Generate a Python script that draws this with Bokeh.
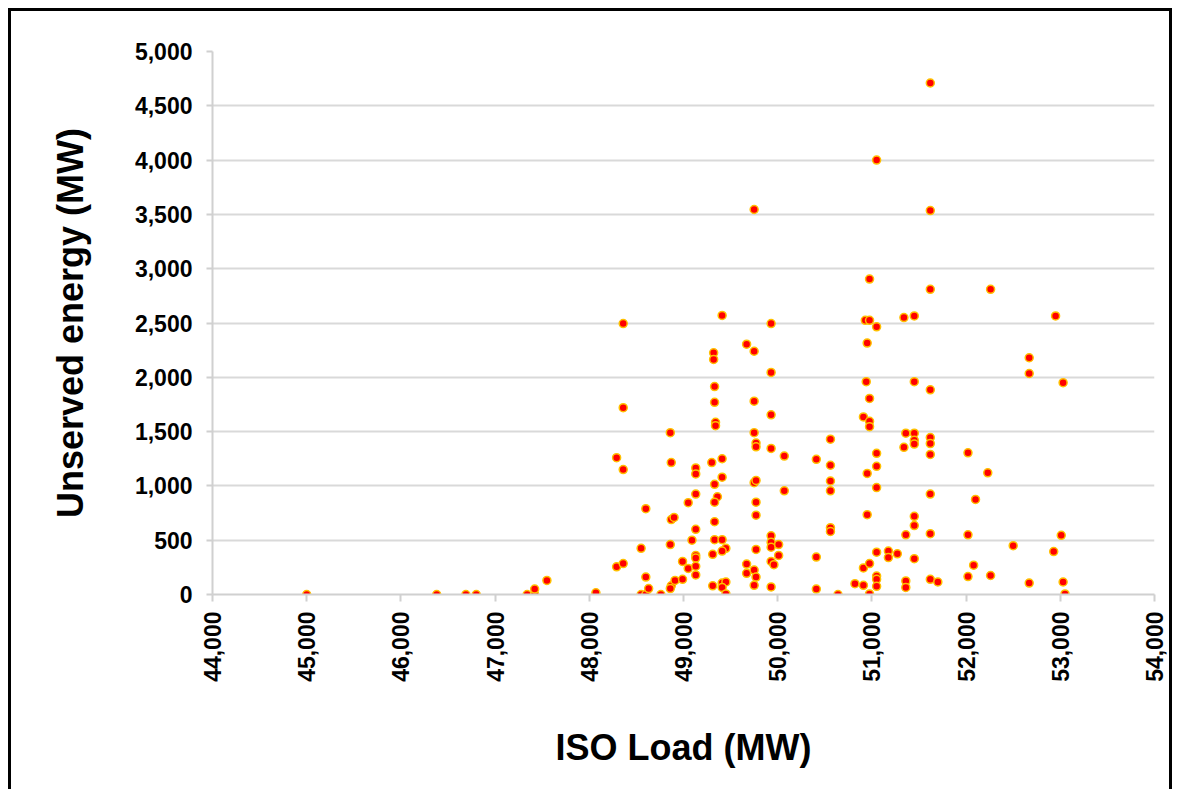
import math
from bokeh.plotting import figure
from bokeh.models import Range1d, FixedTicker, NumeralTickFormatter, ColumnDataSource
from bokeh.embed import file_html
from bokeh.resources import INLINE

# ISO Load (MW)
iso_load = [
    45000, 46380, 46690, 46800, 47340, 47420, 47420, 47550, 48070, 48290,
    48360, 48360, 48360, 48290, 48360, 48550, 48550, 48600, 48600, 48600,
    48630, 48760, 48860, 48870, 48870, 48900, 48860, 48870, 48860, 48910,
    48990, 48990, 49050, 49050, 49090, 49130, 49130, 49130, 49130, 49130,
    49130, 49130, 49130, 49300, 49320, 49320, 49330, 49330, 49340, 49340,
    49330, 49360, 49330, 49330, 49330, 49310, 49310, 49410, 49410, 49410,
    49410, 49450, 49410, 49410, 49450, 49410, 49450, 49670, 49670, 49670,
    49750, 49750, 49750, 49750, 49770, 49770, 49750, 49770, 49770, 49770,
    49770, 49750, 49770, 49750, 49930, 49930, 49930, 49930, 49930, 49930,
    49930, 49930, 49960, 49930, 50010, 50010, 50070, 50070, 50410, 50410,
    50410, 50560, 50560, 50560, 50560, 50560, 50560, 50640, 50820, 50910,
    50910, 50910, 50930, 50940, 50950, 50950, 50950, 50975, 50975, 50975,
    50975, 50975, 50975, 50975, 51050, 51050, 51050, 51050, 51050, 51050,
    51050, 51050, 51050, 51175, 51175, 51270, 51340, 51340, 51360, 51360,
    51360, 51360, 51450, 51450, 51450, 51450, 51450, 51450, 51450, 51450,
    51620, 51620, 51620, 51620, 51620, 51620, 51620, 51620, 51620, 51620,
    51700, 52020, 52020, 52020, 52080, 52100, 52230, 52260, 52260, 52500,
    52670, 52670, 52670, 52930, 52950, 53010, 53030, 53030, 53050,
]

# Unserved energy (MW)
unserved = [
    0, 0, 0, 0, 0, 0, 50, 130, 15, 1260,
    1150, 2495, 1720, 255, 285, 425, 0, 0, 790, 160,
    55, 0, 1490, 1215, 690, 710, 460, 80, 55, 130,
    140, 305, 240, 845, 500, 1165, 1110, 925, 600, 360,
    335, 260, 180, 1215, 2225, 2165, 1915, 1770, 1585, 1555,
    1015, 900, 850, 670, 505, 370, 80, 2570, 1250, 1080,
    505, 425, 400, 105, 115, 65, 5, 2305, 280, 195,
    3545, 2240, 1780, 1490, 1395, 1360, 1030, 1050, 850, 730,
    415, 225, 160, 85, 2495, 2045, 1655, 1345, 540, 480,
    435, 305, 275, 70, 460, 360, 1275, 955, 1245, 345,
    50, 1430, 1190, 1045, 955, 615, 580, 0, 100, 1635,
    245, 85, 2525, 1960, 2315, 1115, 735, 2905, 2525, 1805,
    1595, 1545, 285, 5, 4000, 2465, 1300, 1180, 985, 390,
    170, 140, 75, 400, 340, 375, 2550, 1355, 1485, 550,
    125, 65, 2565, 1960, 1485, 1420, 1385, 720, 635, 330,
    4710, 3535, 2810, 1885, 1445, 1390, 1290, 925, 560, 140,
    115, 1305, 550, 165, 270, 875, 1120, 2810, 175, 450,
    2180, 2035, 105, 395, 2565, 545, 1950, 115, 5,
]

x_ticks = list(range(44000, 54001, 1000))
y_ticks = list(range(0, 5001, 500))

source = ColumnDataSource(data=dict(x=iso_load, y=unserved))

p = figure(
    width=1164, height=781,
    x_range=Range1d(44000, 54000), y_range=Range1d(0, 5000),
    output_backend="svg", toolbar_location=None,
    min_border_left=201, min_border_right=21,
    min_border_top=40, min_border_bottom=198,
)
p.styles = {
    "margin-left": "8px",
    "margin-top": "8px",
    "border-top": "3px solid black",
    "border-left": "3px solid black",
    "border-right": "3px solid black",
}
p.outline_line_color = None
p.background_fill_color = "white"
p.border_fill_color = "white"

p.scatter("x", "y", source=source, size=8, fill_color="#ff0000",
          line_color="#ffc000", line_width=1.5)

font = "Liberation Sans"
for ax in (p.xaxis[0], p.yaxis[0]):
    ax.axis_line_color = "#d0d0d0"
    ax.axis_line_width = 2
    ax.major_tick_line_color = "#d0d0d0"
    ax.major_tick_line_width = 2
    ax.major_tick_in = 0
    ax.minor_tick_line_color = None
    ax.major_label_text_font = font
    ax.major_label_text_font_style = "bold"
    ax.major_label_text_font_size = "23px"
    ax.major_label_text_color = "black"
    ax.axis_label_text_font = font
    ax.axis_label_text_font_style = "bold"
    ax.axis_label_text_font_size = "36px"
    ax.axis_label_text_color = "black"
    ax.formatter = NumeralTickFormatter(format="0,0")

p.xaxis[0].ticker = FixedTicker(ticks=x_ticks)
p.yaxis[0].ticker = FixedTicker(ticks=y_ticks)
p.xaxis[0].major_tick_out = 7
p.yaxis[0].major_tick_out = 6
p.xaxis[0].major_label_orientation = math.pi / 2
p.xaxis[0].major_label_standoff = 10
p.yaxis[0].major_label_standoff = 14
p.xaxis[0].axis_label = "ISO Load (MW)"
p.yaxis[0].axis_label = "Unserved energy (MW)"
p.xaxis[0].axis_label_standoff = 42
p.yaxis[0].axis_label_standoff = 41

p.xgrid.visible = False
p.ygrid.grid_line_color = "#d9d9d9"
p.ygrid.grid_line_width = 2

open("out.html", "w").write(file_html(p, INLINE))
